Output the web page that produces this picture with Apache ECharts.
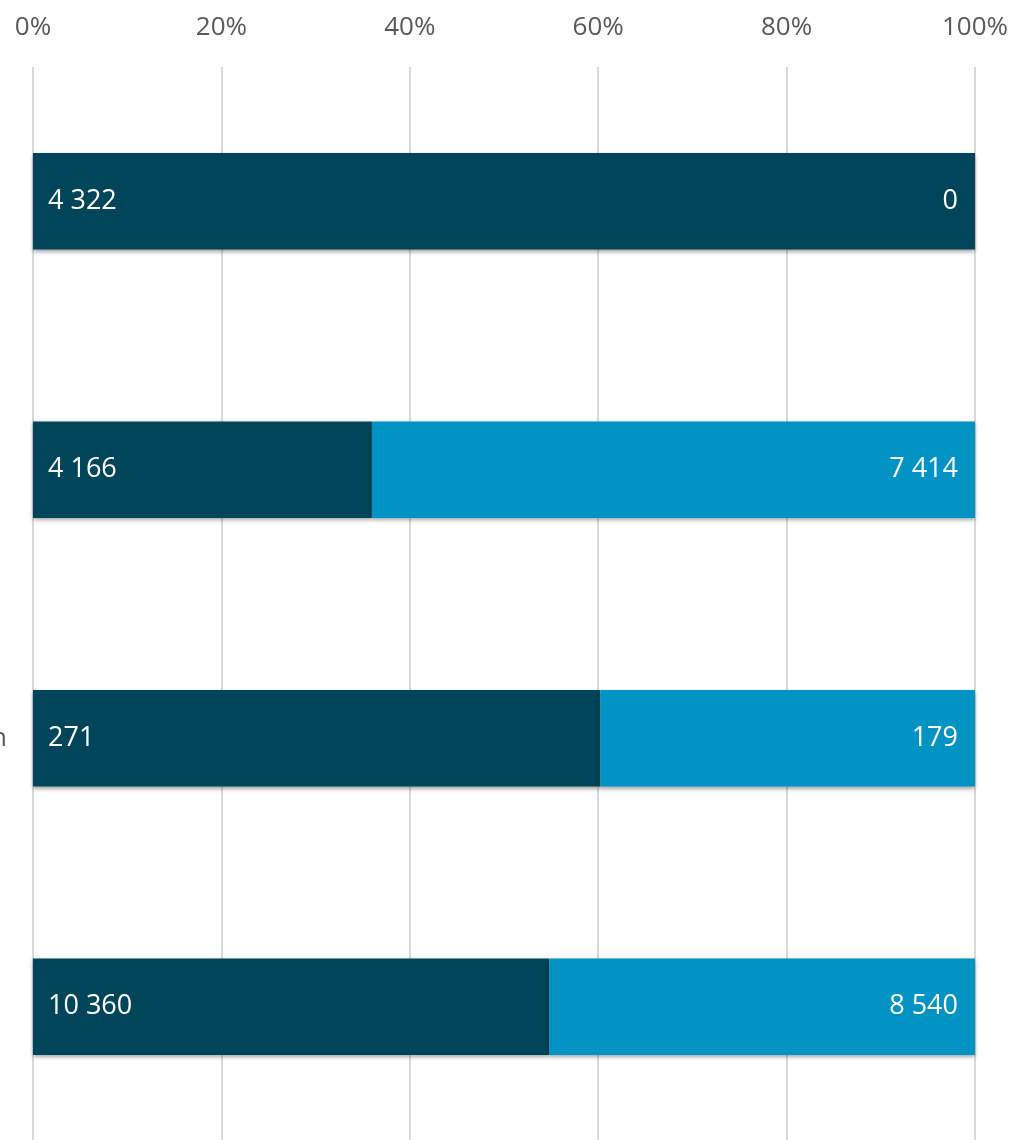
<!DOCTYPE html>
<html>
<head>
<meta charset="utf-8">
<script src="https://cdn.jsdelivr.net/npm/echarts@6/dist/echarts.min.js"></script>
<style>
  html, body { margin: 0; padding: 0; background: #fff; }
  #main { width: 1017px; height: 1140px; }
</style>
</head>
<body>
<div id="main"></div>
<script>
// categories (only the tail of the third label is visible in the picture)
const categories = ["", "", "n", ""];
const darkValues = [4322, 4166, 271, 10360];
const lightValues = [0, 7414, 179, 8540];
const tickLabels = ["0%", "20%", "40%", "60%", "80%", "100%"];

// share of each row, 0..100
const totals = darkValues.map((v, i) => v + lightValues[i]);
const darkPct = darkValues.map((v, i) => (v / totals[i]) * 100);
const lightPct = lightValues.map((v, i) => (v / totals[i]) * 100);

function fmt(n) {
  return String(n).replace(/\B(?=(\d{3})+(?!\d))/g, " ");
}

var myChart = echarts.init(document.getElementById("main"));
var font = "'Open Sans', 'Noto Sans', sans-serif";

var option = {
  animation: false,
  grid: {
    left: 33,
    right: 42,
    top: 67,
    bottom: -1,
    containLabel: false,
    outerBoundsMode: "none",
  },
  xAxis: {
    type: "value",
    position: "top",
    min: 0,
    max: 100,
    interval: 20,
    axisLine: { show: false },
    axisTick: { show: false },
    axisLabel: {
      margin: 26,
      color: "#595959",
      fontSize: 26,
      fontFamily: font,
      formatter: function (v) {
        return tickLabels[v / 20];
      },
    },
    splitLine: {
      lineStyle: { color: "#d9d9d9", width: 2 },
    },
  },
  yAxis: {
    type: "category",
    inverse: true,
    data: categories,
    axisLine: { show: false },
    axisTick: { show: false },
    axisLabel: {
      margin: 26,
      color: "#595959",
      fontSize: 26,
      fontFamily: font,
    },
  },
  series: [
    {
      name: "dark",
      type: "bar",
      stack: "total",
      barWidth: "36%",
      data: darkPct,
      itemStyle: {
        color: "#004559",
        shadowBlur: 4,
        shadowOffsetY: 2,
        shadowColor: "rgba(0,0,0,0.35)",
      },
      label: {
        show: true,
        position: "insideLeft",
        distance: 15,
        color: "#fff",
        fontSize: 27,
        fontFamily: font,
        formatter: function (p) {
          return fmt(darkValues[p.dataIndex]);
        },
      },
    },
    {
      name: "light",
      type: "bar",
      stack: "total",
      barWidth: "36%",
      data: lightPct,
      itemStyle: {
        color: "#0093c3",
        shadowBlur: 4,
        shadowOffsetY: 2,
        shadowColor: "rgba(0,0,0,0.35)",
      },
      label: {
        show: true,
        position: "insideRight",
        distance: 17,
        color: "#fff",
        fontSize: 27,
        fontFamily: font,
        formatter: function (p) {
          return fmt(lightValues[p.dataIndex]);
        },
      },
    },
  ],
};

myChart.setOption(option);
window.addEventListener("resize", function () {
  myChart.resize();
});
</script>
</body>
</html>
